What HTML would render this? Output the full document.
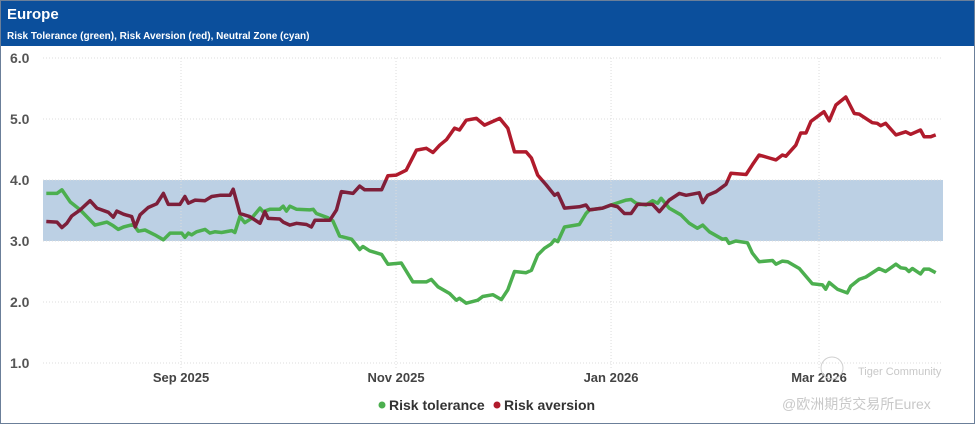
<!DOCTYPE html>
<html><head><meta charset="utf-8"><style>
html,body{margin:0;padding:0;background:#fff;}
body{width:975px;height:424px;overflow:hidden;position:relative;font-family:"Liberation Sans","Noto Sans CJK SC",sans-serif;}
#frame{position:absolute;left:0;top:0;width:973px;height:422px;border:1px solid #6b7f99;}
#header{position:absolute;left:1px;top:1px;width:973px;height:45px;background:#0b4f9c;color:#fff;}
#title{position:absolute;left:6px;top:5px;font-size:15px;font-weight:bold;}
#subtitle{position:absolute;left:6px;top:30px;font-size:10px;font-weight:bold;}
svg{position:absolute;left:0;top:0;}
</style></head><body>
<div id="frame"></div>
<div id="header">
<div id="title">Europe</div>
<div id="subtitle">Risk Tolerance (green), Risk Aversion (red), Neutral Zone (cyan)</div>
</div>
<svg id="chart" width="975" height="424"></svg>
<script>
const yTicks=[1,2,3,4,5,6];
const xTickLabels=["Sep 2025","Nov 2025","Jan 2026","Mar 2026"];
const xTickDays=[0,61,122,181];
const bandRange=[3,4];
const redDays=[-38.2,-35.2,-33.8,-32.4,-31.0,-28.6,-25.8,-23.9,-20.6,-19.2,-18.2,-16.3,-14.0,-13.0,-11.6,-9.3,-6.9,-5.0,-3.6,-0.3,1.1,2.1,4.0,6.8,8.7,11.0,13.9,14.8,16.7,19.5,22.4,23.8,24.7,28.0,29.0,30.9,32.8,35.6,37.0,38.0,42.2,44.1,45.5,48.8,50.7,52.1,56.9,58.7,61.1,63.9,66.8,69.6,71.5,73.4,75.3,77.6,79.0,80.9,83.8,86.1,90.4,92.7,94.6,97.9,99.4,101.2,103.6,106.0,106.9,108.8,113.0,114.9,115.9,119.6,122.0,123.9,125.8,127.7,129.5,133.8,135.7,138.5,141.4,143.3,147.0,148.0,149.4,151.8,154.6,156.0,160.3,162.1,164.0,166.9,168.8,170.6,171.6,174.4,175.8,177.3,178.7,182.4,183.9,185.8,188.6,191.0,192.4,196.1,197.5,198.5,199.9,202.8,205.6,207.0,209.8,210.8,212.7,214.1];
const redValues=[3.32,3.31,3.22,3.29,3.41,3.51,3.66,3.54,3.47,3.39,3.49,3.44,3.40,3.23,3.43,3.55,3.61,3.78,3.60,3.60,3.73,3.62,3.67,3.66,3.73,3.75,3.75,3.85,3.45,3.40,3.29,3.48,3.37,3.36,3.31,3.26,3.29,3.27,3.23,3.34,3.34,3.51,3.81,3.78,3.90,3.84,3.84,4.07,4.08,4.16,4.49,4.52,4.45,4.57,4.66,4.85,4.82,4.98,5.01,4.90,5.01,4.85,4.46,4.46,4.36,4.08,3.92,3.75,3.78,3.54,3.56,3.59,3.51,3.54,3.59,3.56,3.45,3.45,3.60,3.60,3.48,3.67,3.78,3.75,3.79,3.63,3.75,3.81,3.93,4.11,4.09,4.25,4.41,4.36,4.33,4.41,4.39,4.57,4.77,4.77,4.96,5.12,4.97,5.23,5.36,5.09,5.08,4.94,4.93,4.89,4.93,4.74,4.79,4.75,4.82,4.71,4.71,4.74];
const greenDays=[-38.2,-35.2,-33.8,-31.4,-28.6,-24.4,-21.0,-19.2,-17.8,-16.3,-13.5,-12.1,-10.2,-7.4,-5.0,-3.1,0.2,1.1,2.1,3.0,4.4,6.8,8.2,9.6,11.5,14.4,15.3,16.7,18.1,20.0,22.4,23.3,25.2,28.0,29.0,29.9,30.9,32.8,36.5,37.5,38.4,41.7,43.1,45.0,48.4,50.7,51.6,53.5,56.9,58.7,62.5,65.8,69.6,71.0,72.9,76.2,78.1,79.0,80.9,84.2,85.6,88.5,90.9,92.7,94.6,97.9,99.4,101.2,103.1,105.0,106.0,106.9,108.8,113.0,114.9,115.9,119.6,122.0,126.3,127.7,129.1,131.9,133.8,135.2,136.2,138.5,141.8,144.2,146.5,148.0,149.9,153.6,154.6,155.5,157.4,160.7,162.1,164.0,167.8,168.8,170.6,172.1,175.4,179.1,182.0,182.9,183.9,186.2,189.0,190.0,192.4,194.3,198.0,199.9,202.8,204.2,205.6,206.5,207.5,209.8,210.8,212.2,214.1];
const greenValues=[3.78,3.78,3.84,3.64,3.51,3.26,3.31,3.25,3.19,3.23,3.27,3.16,3.18,3.10,3.02,3.13,3.13,3.06,3.13,3.10,3.15,3.19,3.13,3.15,3.14,3.17,3.14,3.40,3.30,3.37,3.54,3.48,3.52,3.52,3.57,3.49,3.57,3.52,3.51,3.52,3.45,3.38,3.33,3.08,3.03,2.86,2.91,2.84,2.78,2.62,2.64,2.33,2.33,2.37,2.25,2.14,2.03,2.06,1.98,2.03,2.09,2.12,2.04,2.20,2.50,2.48,2.52,2.77,2.88,2.95,3.02,2.99,3.23,3.27,3.45,3.51,3.54,3.59,3.67,3.68,3.62,3.59,3.66,3.62,3.70,3.54,3.43,3.29,3.21,3.26,3.15,3.03,3.04,2.96,3.00,2.97,2.80,2.66,2.68,2.62,2.67,2.66,2.55,2.30,2.28,2.21,2.32,2.21,2.15,2.26,2.37,2.41,2.55,2.50,2.62,2.56,2.55,2.50,2.55,2.46,2.54,2.54,2.48];

const svg=document.getElementById('chart');
const NS='http://www.w3.org/2000/svg';
const PL=43,PR=943;
function xs(d){return 181+d*3.525;}
function ys(v){return 58+(6-v)*61;}
function mk(tag,attrs,parent){const e=document.createElementNS(NS,tag);for(const k in attrs)e.setAttribute(k,attrs[k]);(parent||svg).appendChild(e);return e;}

// band
const band=mk('rect',{x:PL,y:ys(bandRange[1]),width:PR-PL,height:ys(bandRange[0])-ys(bandRange[1]),fill:'#bcd0e4'});



// gridlines + y labels
yTicks.forEach(t=>{
  const g=mk('line',{x1:PL,x2:PR,y1:ys(t),y2:ys(t),stroke:'#dcdcdc','stroke-dasharray':'1,2'});
  
  
  const l=mk('text',{x:10,y:ys(t)+5,'font-size':14,'font-weight':'bold',fill:'#555'});
  l.textContent=t.toFixed(1);
  
  
});
xTickDays.forEach((d,i)=>{
  const g=mk('line',{x1:xs(d),x2:xs(d),y1:58,y2:370,stroke:'#dcdcdc','stroke-dasharray':'1,2'});
  
  
  const l=mk('text',{x:xs(d),y:382,'font-size':13,'font-weight':'bold',fill:'#444','text-anchor':'middle'});
  l.textContent=xTickLabels[i];
  
  
});

// clip paths for band coloring
const defs=mk('defs',{});
const c1=mk('clipPath',{id:'inBand'},defs);
mk('rect',{x:0,y:ys(bandRange[1]),width:975,height:ys(bandRange[0])-ys(bandRange[1])},c1);
const c2=mk('clipPath',{id:'outBand'},defs);
mk('path',{d:`M0 0H975V${ys(bandRange[1])}H0Z M0 ${ys(bandRange[0])}H975V424H0Z`},c2);

function pts(days,vals){return days.map((d,i)=>xs(d).toFixed(1)+','+ys(vals[i]).toFixed(1)).join(' ');}
const gp=mk('polyline',{points:pts(greenDays,greenValues),fill:'none',stroke:'#4caf4f','stroke-width':3.5,'stroke-linejoin':'round'});


const rOut=mk('polyline',{points:pts(redDays,redValues),fill:'none',stroke:'#b01b2c','stroke-width':3.5,'stroke-linejoin':'round','clip-path':'url(#outBand)'});


const rIn=mk('polyline',{points:pts(redDays,redValues),fill:'none',stroke:'#7d1f3a','stroke-width':3.5,'stroke-linejoin':'round','clip-path':'url(#inBand)'});



// legend
const lg=mk('g',{});


const e1=mk('g',{},lg);


mk('circle',{cx:382,cy:405,r:3.5,fill:'#4caf4f'},e1);
const t1=mk('text',{x:389,y:410,'font-size':14,'font-weight':'bold',fill:'#333'},e1);t1.textContent='Risk tolerance';
const e2=mk('g',{},lg);


mk('circle',{cx:497,cy:405,r:3.5,fill:'#b01b2c'},e2);
const t2=mk('text',{x:504,y:410,'font-size':14,'font-weight':'bold',fill:'#333'},e2);t2.textContent='Risk aversion';

// watermark
const w1=mk('text',{x:858,y:375,'font-size':11,fill:'#c8c8c8'});w1.textContent='Tiger Community';


mk('circle',{cx:832,cy:368,r:11,fill:'none',stroke:'#d0d0d0','stroke-width':1});
const w2=mk('text',{x:782,y:409,'font-size':14,fill:'#c8c8c8'});w2.textContent='@欧洲期货交易所Eurex';


</script>
</body></html>
